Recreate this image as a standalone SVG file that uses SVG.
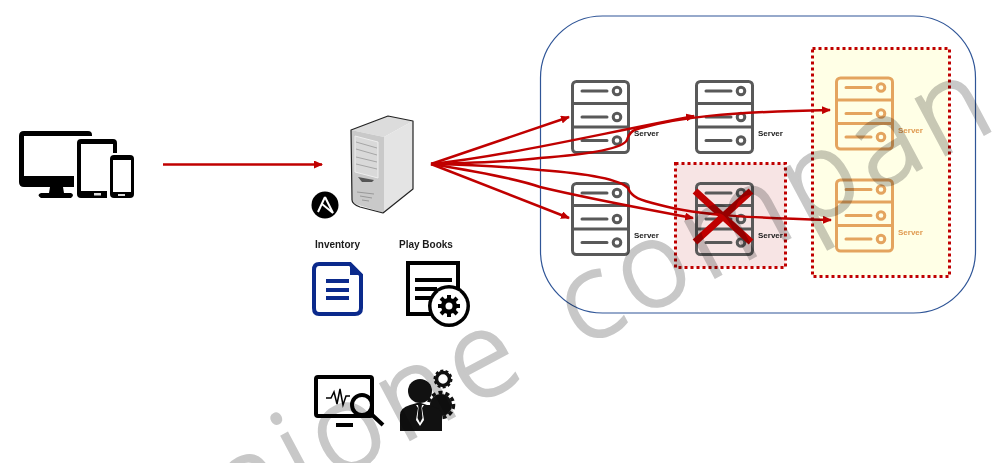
<svg xmlns="http://www.w3.org/2000/svg" width="999" height="463" viewBox="0 0 999 463">
<defs>
<marker id="ah" markerWidth="9" markerHeight="8" refX="8" refY="4" orient="auto" markerUnits="userSpaceOnUse"><path d="M0 0L9 4L0 8z" fill="#c00000"/></marker>
<g id="srv" fill="none" stroke-width="3">
<rect x="1.500" y="1.500" width="56" height="71" rx="4"/>
<path d="M1.500 23.500H57.500M1.500 47H57.500"/>
<path d="M11 11H36M11 37H36M11 60.500H36" stroke-linecap="round"/>
<circle cx="46" cy="11" r="3.800"/><circle cx="46" cy="37" r="3.800"/><circle cx="46" cy="60.500" r="3.800"/>
</g>
</defs>
<style>
.lab{font-family:"Liberation Sans",Arial,sans-serif;font-weight:700;font-size:8px;fill:#1a1a1a}
.big{font-family:"Liberation Sans",Arial,sans-serif;font-weight:700;font-size:10px;fill:#1a1a1a}
.conn{fill:none;stroke:#c00000;stroke-width:2.500;marker-end:url(#ah)}
.box{stroke:#c00000;stroke-width:3;stroke-dasharray:3 3}
.wm{font-family:"Open Sans","Liberation Sans",sans-serif;font-weight:300;font-size:118px;letter-spacing:8px;word-spacing:15px;fill:#c8c8c8;stroke:#c8c8c8;stroke-width:3;mix-blend-mode:multiply}
</style>
<rect width="999" height="463" fill="#fff"/>
<g id="cloud"><rect x="540.500" y="16" width="435" height="297" rx="62" fill="#fff" stroke="#2f5597" stroke-width="1.200"/></g>
<g id="zone-yellow"><rect x="812.500" y="48.500" width="137" height="228" fill="#ffffe6" class="box"/></g>
<g id="zone-red"><rect x="675.500" y="163.500" width="110" height="104" fill="#f7e4e4" class="box"/></g>
<g id="server1"><use href="#srv" x="571" y="80" stroke="#595959"/><text class="lab" x="634" y="136">Server</text></g>
<g id="server2"><use href="#srv" x="695" y="80" stroke="#595959"/><text class="lab" x="758" y="136">Server</text></g>
<g id="server3"><use href="#srv" x="571" y="182" stroke="#595959"/><text class="lab" x="634" y="238">Server</text></g>
<g id="server4"><use href="#srv" x="695" y="182" stroke="#595959"/><text class="lab" x="758" y="238">Server</text></g>
<g id="server5"><use href="#srv" x="835" y="76.500" stroke="#e4a45f"/><text class="lab" x="898" y="133" style="fill:#e09a50">Server</text></g>
<g id="server6"><use href="#srv" x="835" y="178.500" stroke="#e4a45f"/><text class="lab" x="898" y="235" style="fill:#e09a50">Server</text></g>
<g id="devices">
<path d="M24 131H88Q92 131 92 135V136H24V176H74V187H24Q19 187 19 182V136Q19 131 24 131zM50 187H63L64 193H71Q75 195 71 198H41Q36 195 41 193H49z" fill="#000"/>
<path d="M81 139H113Q117 139 117 143V153H113V144H81V191H107V198H81Q77 198 77 194V143Q77 139 81 139z" fill="#000"/>
<rect x="107" y="153" width="3" height="45" fill="#fff"/>
<rect x="110" y="155" width="24" height="43" rx="4" fill="#000"/>
<rect x="113" y="160" width="18" height="32" fill="#fff"/>
<rect x="94" y="193" width="7" height="2.500" fill="#ddd"/><rect x="118" y="194" width="7" height="2" fill="#ddd"/>
</g>
<g id="ansible-server">
<path d="M351 130L388 116L413 121L384 137Z" fill="#dcdcdc"/>
<path d="M384 137L413 121V189L384 213Z" fill="#e4e4e4"/>
<path d="M351 130L384 137V213L352 203Z" fill="#c9c9c9"/>
<path d="M351 130L388 116L413 121V189L383 213L360 207Q352 204 352 200Z" fill="none" stroke="#222" stroke-width="1.200" stroke-linejoin="round"/>
<path d="M355 136L378 142V178L355 172Z" fill="#d9d9d9" stroke="#eee"/>
<path d="M356 142L377 148M356 149L377 155M356 157L377 162M356 164L377 169" stroke="#a6a6a6" fill="none"/>
<path d="M358 177L374 180L372 182H362Z" fill="#555"/>
<path d="M357 192L374 194M360 196L372 198M362 200L369 201" stroke="#999" fill="none"/>
</g>
<g id="ansible-badge"><circle cx="325" cy="205" r="13.500" fill="#000"/><path d="M325 197L333 213L322 204M325 197L318 212" fill="none" stroke="#fff" stroke-width="2"/></g>
<g id="inventory">
<text class="big" x="315" y="248">Inventory</text>
<path d="M319 264H350L361 275V308Q361 314 355 314H319Q314 314 314 308V270Q314 264 319 264z" fill="#fff" stroke="#0b2a8c" stroke-width="4"/>
<path d="M350 263V275H362Z" fill="#0b2a8c"/>
<path d="M326 281H349M326 290H349M326 298H349" stroke="#0b2a8c" stroke-width="4" fill="none"/>
</g>
<g id="playbooks">
<text class="big" x="399" y="248">Play Books</text>
<rect x="408" y="263" width="50" height="51" fill="#fff" stroke="#000" stroke-width="4"/>
<path d="M415 280H452M415 289H437M415 298H432" stroke="#000" stroke-width="4" fill="none"/>
<circle cx="449" cy="306" r="21" fill="#000"/><circle cx="449" cy="306" r="17.500" fill="#fff"/>
<path d="M449 295V317M438 306H460M441 298L457 314M457 298L441 314" stroke="#000" stroke-width="4"/>
<circle cx="449" cy="306" r="8" fill="#000"/><circle cx="449" cy="306" r="3.500" fill="#fff"/>
</g>
<g id="monitor">
<rect x="316" y="377" width="56" height="39" rx="2" fill="#fff" stroke="#000" stroke-width="4"/>
<rect x="336" y="423" width="17" height="4" fill="#000"/>
<path d="M326 398H331L334 392L337 404L340 389L343 405L346 396H350" fill="none" stroke="#000" stroke-width="1.500"/>
<circle cx="362" cy="405" r="10" fill="#fff" stroke="#000" stroke-width="4"/><path d="M369 412L383 425" stroke="#000" stroke-width="4"/>
</g>
<g id="admin">
<circle cx="441" cy="405" r="11" fill="#111"/><circle cx="441" cy="405" r="12.500" fill="none" stroke="#111" stroke-width="3.500" stroke-dasharray="4 3"/>
<path d="M400 431V415Q400 408 410 405L417 403L421 403L427 405Q442 408 442 415V431Z" fill="#111"/>
<circle cx="420" cy="391" r="12" fill="#111"/>
<path d="M416 405H424L422 408L424 420L420 426L416 420L418 408Z" fill="#fff"/><path d="M418 405H422L421.500 408L422.500 418L420 423L417.500 418L418.500 408Z" fill="#111"/>
<circle cx="443" cy="379" r="6.500" fill="none" stroke="#111" stroke-width="3.500"/><circle cx="443" cy="379" r="8.500" fill="none" stroke="#111" stroke-width="2" stroke-dasharray="3 2.300"/>
</g>
<g id="connectors">
<path class="conn" d="M163 164.500H322"/>
<path class="conn" d="M431 164L569 117"/>
<path class="conn" d="M431 164C500 157 580 138 694 116"/>
<path class="conn" d="M431 164C480 163 510 162 540 158C580 155 622 150 627 140C630 130 636 129 645 127C680 118 720 112 830 110"/>
<path class="conn" d="M431 164C480 165 510 167 540 170C580 173 618 178 628 188C632 198 640 200 660 205C700 216 760 218 831 220"/>
<path class="conn" d="M431 164C480 172 520 180 540 187C590 199 640 208 693 218"/>
<path class="conn" d="M431 164L569 218"/>
</g>
<g id="fail"><path d="M695 191L751 242M751 191L695 242" stroke="#c00000" stroke-width="7" fill="none"/></g>
<g id="watermark"><text class="wm" transform="translate(234,533) rotate(-28)">nione compan</text></g>
</svg>
